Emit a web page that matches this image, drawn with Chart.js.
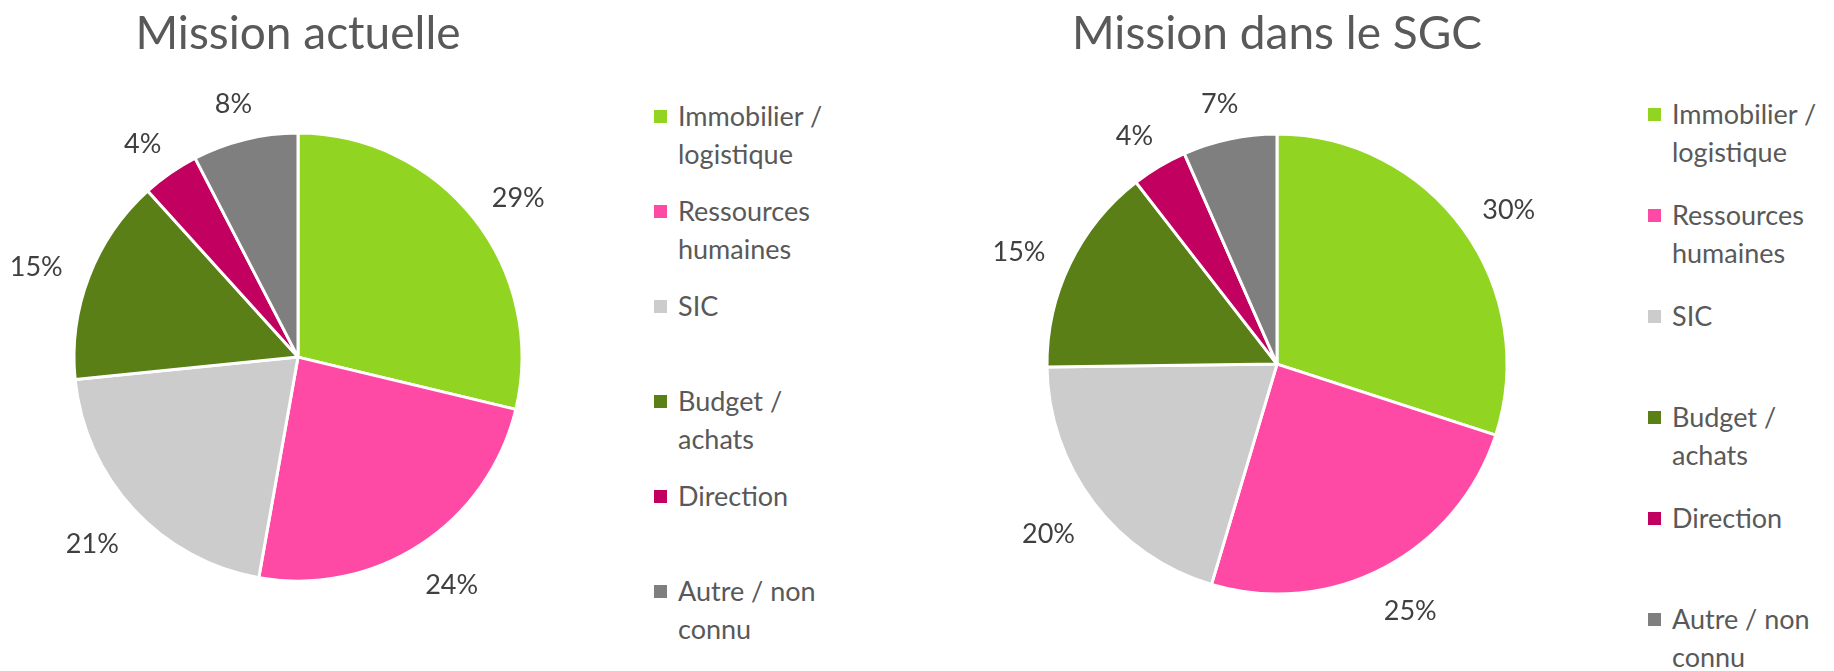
<!DOCTYPE html>
<html lang="fr">
  <head>
    <meta charset="UTF-8" />
    <title>Mission actuelle / Mission dans le SGC</title>
    <script src="https://cdn.jsdelivr.net/npm/chart.js"></script>
    <style>
      body { margin: 0; width: 1834px; height: 671px; background: #fff; position: relative; overflow: hidden; font-family: Lato, sans-serif; }
      canvas { position: absolute; top: 0; }
      #chartLeft { left: 0; }
      #chartRight { left: 958px; }
      .legend { position: absolute; margin: 0; padding: 0; list-style: none; color: #595959; font-size: 27px; line-height: 38px; white-space: nowrap; }
      .legend li { position: relative; padding-left: 24px; }
      .legend .box { position: absolute; left: 0; top: 13px; width: 13px; height: 13px; }
      #legendLeft { left: 654px; top: 97px; }
      #legendLeft li { height: 95px; }
      #legendRight { left: 1648px; top: 95px; }
      #legendRight li { height: 101px; }
    </style>
  </head>
  <body>
    <canvas id="chartLeft" width="596" height="671"></canvas>
    <ul id="legendLeft" class="legend"></ul>
    <canvas id="chartRight" width="638" height="671"></canvas>
    <ul id="legendRight" class="legend"></ul>

    <script>
      // categories (one array per label, split where the legend wraps)
      const categories = [
        ["Immobilier /", "logistique"],
        ["Ressources", "humaines"],
        ["SIC"],
        ["Budget /", "achats"],
        ["Direction"],
        ["Autre / non", "connu"],
      ];
      // shares in %
      const actuelleValues = [28.75, 24.05, 20.6, 14.9, 4.1, 7.6];
      const sgcValues = [30.0, 24.6, 20.2, 14.7, 3.9, 6.6];
      const sliceColors = ["#92D422", "#FF4AA5", "#CCCCCC", "#5A7F17", "#C2005F", "#7F7F7F"];

      // percentage labels outside each slice
      const outsideLabels = {
        id: "outsideLabels",
        afterDatasetsDraw(chart) {
          const ctx = chart.ctx;
          const values = chart.data.datasets[0].data;
          const total = values.reduce((a, b) => a + b, 0);
          ctx.save();
          ctx.font = "27px Lato";
          ctx.fillStyle = "#404040";
          ctx.textAlign = "center";
          ctx.textBaseline = "middle";
          chart.getDatasetMeta(0).data.forEach((arc, i) => {
            const p = arc.getProps(["x", "y", "startAngle", "endAngle", "outerRadius"], true);
            const mid = (p.startAngle + p.endAngle) / 2;
            const dx = Math.cos(mid);
            const dy = Math.sin(mid);
            const text = Math.round((values[i] / total) * 100) + "%";
            const w = ctx.measureText(text).width;
            const r = p.outerRadius + 30;
            ctx.fillText(text, p.x + dx * (r + w / 2), p.y + dy * (r + 12) + 6);
          });
          ctx.restore();
        },
      };

      // legend as html list, so labels can wrap like in the original
      const htmlLegend = {
        id: "htmlLegend",
        afterUpdate(chart, args, opts) {
          const ul = document.getElementById(opts.containerID);
          ul.innerHTML = "";
          const items = chart.options.plugins.legend.labels.generateLabels(chart);
          items.forEach((item) => {
            const li = document.createElement("li");
            const box = document.createElement("span");
            box.className = "box";
            box.style.background = item.fillStyle;
            li.appendChild(box);
            [].concat(chart.data.labels[item.index]).forEach((line, k) => {
              if (k > 0) li.appendChild(document.createElement("br"));
              li.appendChild(document.createTextNode(line));
            });
            ul.appendChild(li);
          });
        },
      };

      function makePie(canvasId, legendId, title, values, radius, bottomPad) {
        return new Chart(document.getElementById(canvasId), {
          type: "pie",
          data: {
            labels: categories,
            datasets: [
              {
                data: values,
                backgroundColor: sliceColors,
                borderColor: "#ffffff",
                borderWidth: 3,
                radius: radius,
              },
            ],
          },
          options: {
            responsive: false,
            animation: false,
            layout: { padding: { bottom: bottomPad } },
            plugins: {
              legend: { display: false },
              tooltip: { enabled: false },
              title: {
                display: true,
                text: title,
                color: "#595959",
                font: { family: "Lato", size: 46, weight: "normal" },
                padding: { top: 7, bottom: 7 },
              },
              htmlLegend: { containerID: legendId },
            },
          },
          plugins: [outsideLabels, htmlLegend],
        });
      }

      makePie("chartLeft", "legendLeft", "Mission actuelle", actuelleValues, 224, 26);
      makePie("chartRight", "legendRight", "Mission dans le SGC", sgcValues, 230, 12);
    </script>
  </body>
</html>
